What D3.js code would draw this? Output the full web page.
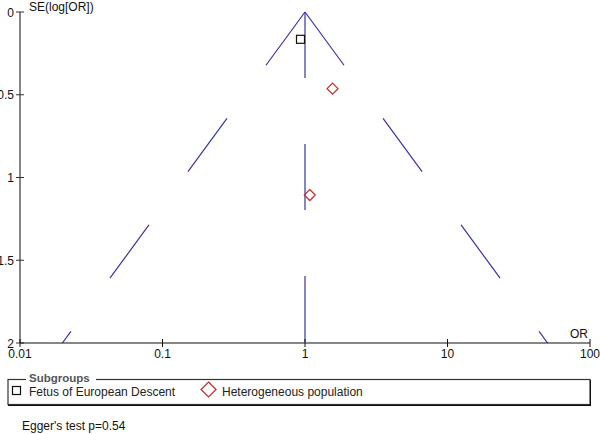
<!DOCTYPE html>
<html><head><meta charset="utf-8">
<script src="https://cdn.jsdelivr.net/npm/d3@7"></script>
<style>body{margin:0;background:#fff}svg{display:block;font-family:"Liberation Sans",Arial,sans-serif}</style>
</head><body><svg id="c" width="600" height="434"></svg>
<script>
const xTicks = [0.01, 0.1, 1, 10, 100];
const xTickLabels = ["0.01", "0.1", "1", "10", "100"];
const yTicks = [0, 0.5, 1, 1.5, 2];
const yTickLabels = ["0", "0.5", "1", "1.5", "2"];
const studyGroups = ["Fetus of European Descent", "Heterogeneous population", "Heterogeneous population"];
const studyOR = [0.93, 1.56, 1.08];
const studySE = [0.165, 0.463, 1.106];
const pooledOR = 1;
const seMax = 2;
const legendGroups = ["Fetus of European Descent", "Heterogeneous population"];
const eggerText = "Egger's test p=0.54";

const svg = d3.select("#c");
const x = d3.scaleLog().domain([0.01, 100]).range([20, 590]);
const y = d3.scaleLinear().domain([0, 2]).range([12, 343]);
const blue = "#3535a8";

// funnel lines
const z = 1.96;
const funnel = [
  [[pooledOR, 0], [pooledOR, seMax]],
  [[pooledOR, 0], [Math.exp(Math.log(pooledOR) - z * seMax), seMax]],
  [[pooledOR, 0], [Math.exp(Math.log(pooledOR) + z * seMax), seMax]]
];
const clip = svg.append("clipPath").attr("id", "pc").append("rect")
  .attr("x", 20).attr("y", 0).attr("width", 570).attr("height", 343);
svg.append("g").attr("clip-path", "url(#pc)").selectAll("line").data(funnel).join("line")
  .attr("x1", d => x(d[0][0])).attr("y1", d => y(d[0][1]))
  .attr("x2", d => x(d[1][0])).attr("y2", d => y(d[1][1]))
  .attr("stroke", blue).attr("stroke-width", 1.2).attr("stroke-dasharray", "66,66");

// y axis
const ya = svg.append("g");
ya.append("line").attr("x1", 20).attr("x2", 20).attr("y1", y(0)).attr("y2", y(2)).attr("stroke", "#333").attr("stroke-width", 1.2);
ya.selectAll(".t").data(yTicks).join("line").attr("x1", 16).attr("x2", 24)
  .attr("y1", d => y(d)).attr("y2", d => y(d)).attr("stroke", "#333");
ya.selectAll("text").data(yTicks).join("text").attr("x", 14).attr("y", d => y(d) + 4.5)
  .attr("text-anchor", "end").attr("font-size", 12).attr("fill", "#111").text((d, i) => yTickLabels[i]);
svg.append("text").attr("x", 29).attr("y", 11).attr("font-size", 12).attr("fill", "#111").text("SE(log[OR])");

// x axis
const xa = svg.append("g");
xa.append("line").attr("x1", 20).attr("x2", 590).attr("y1", 343).attr("y2", 343).attr("stroke", "#111").attr("stroke-width", 1.2);
xa.selectAll(".t").data(xTicks).join("line").attr("x1", d => x(d)).attr("x2", d => x(d))
  .attr("y1", 339).attr("y2", 347).attr("stroke", "#111");
xa.selectAll("text").data(xTicks).join("text").attr("x", d => x(d)).attr("y", 358)
  .attr("text-anchor", "middle").attr("font-size", 12).attr("fill", "#111").text((d, i) => xTickLabels[i]);
svg.append("text").attr("x", 588).attr("y", 338).attr("text-anchor", "end").attr("font-size", 12).attr("fill", "#111").text("OR");

// points
const diamond = r => `M0,${-r}L${r},0L0,${r}L${-r},0Z`;
const pts = svg.append("g");
studyOR.forEach((o, i) => {
  const g = pts.append("g").attr("transform", `translate(${x(o)},${y(studySE[i])})`);
  if (studyGroups[i] === legendGroups[0]) {
    g.append("rect").attr("x", -4).attr("y", -4).attr("width", 8).attr("height", 8)
      .attr("fill", "none").attr("stroke", "#111").attr("stroke-width", 1.2);
  } else {
    g.append("path").attr("d", diamond(5.5)).attr("fill", "none").attr("stroke", "#cc2a2a").attr("stroke-width", 1.2);
  }
});

// legend
const lg = svg.append("g");
lg.append("rect").attr("x", 8).attr("y", 379.5).attr("width", 582).attr("height", 25)
  .attr("fill", "none").attr("stroke", "#333").attr("stroke-width", 1.2);
lg.append("line").attr("x1", 590.5).attr("x2", 590.5).attr("y1", 380).attr("y2", 405.5).attr("stroke", "#111").attr("stroke-width", 1);
lg.append("line").attr("x1", 8).attr("x2", 591).attr("y1", 405.5).attr("y2", 405.5).attr("stroke", "#111").attr("stroke-width", 1);
lg.append("rect").attr("x", 26).attr("y", 372).attr("width", 70).attr("height", 12).attr("fill", "#fff");
lg.append("text").attr("x", 29).attr("y", 382).attr("font-size", 11.5).attr("font-weight", "bold").attr("fill", "#555").text("Subgroups");
lg.append("rect").attr("x", 12.5).attr("y", 386.5).attr("width", 8).attr("height", 8)
  .attr("fill", "none").attr("stroke", "#111").attr("stroke-width", 1.2);
lg.append("text").attr("x", 29).attr("y", 396).attr("font-size", 12).attr("fill", "#222").text(legendGroups[0]);
lg.append("path").attr("transform", "translate(208.5,389.5)").attr("d", diamond(7.5))
  .attr("fill", "none").attr("stroke", "#cc2a2a").attr("stroke-width", 1.2);
lg.append("text").attr("x", 222).attr("y", 396).attr("font-size", 12).attr("fill", "#222").text(legendGroups[1]);

svg.append("text").attr("x", 22).attr("y", 430).attr("font-size", 12).attr("fill", "#111").text(eggerText);
</script></body></html>
